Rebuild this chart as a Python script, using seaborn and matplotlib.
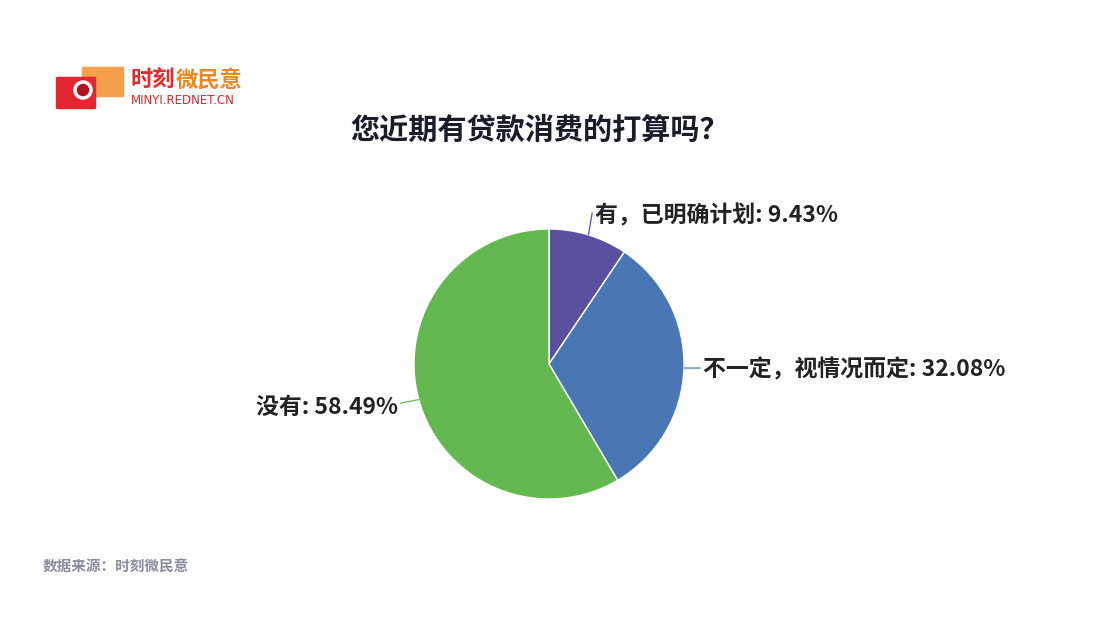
import numpy as np
import matplotlib.pyplot as plt
import matplotlib.patches as mpatches
import seaborn as sns

# ==============================
# Data
# ==============================
title = "您近期有贷款消费的打算吗？"
labels = ["有，已明确计划", "不一定，视情况而定", "没有"]
shares = [9.43, 32.08, 58.49]
colors = ["#5b4f9f", "#4a77b4", "#63b84f"]
source = "数据来源：时刻微民意"

# ==============================
# Style
# ==============================
sns.set_theme(style="white")
plt.rcParams["font.family"] = ["Noto Sans CJK SC", "DejaVu Sans"]

W, H = 1100, 620
fig = plt.figure(figsize=(W / 100, H / 100), dpi=100)
fig.patch.set_facecolor("white")

# pie axes: centre (549, 364), radius 135 px
cx, cy, r = 549, 364, 135
ax = fig.add_axes([(cx - r) / W, 1 - (cy + r) / H, 2 * r / W, 2 * r / H])
wedges, _ = ax.pie(shares, colors=colors, startangle=90, counterclock=False,
                   wedgeprops=dict(edgecolor="white", linewidth=1))
ax.set_xlim(-1, 1)
ax.set_ylim(-1, 1)
ax.set_aspect("equal")
ax.axis("off")

# leader lines + labels
line_ends = [(0.32, 1.12), (1.12, -0.03), (-1.10, -0.29)]
text_pos = [(0.34, 1.10), (1.14, -0.04), (-1.12, -0.32)]
aligns = ["left", "left", "right"]
for w, lab, val, end, tp, ha in zip(wedges, labels, shares, line_ends, text_pos, aligns):
    ang = np.deg2rad((w.theta1 + w.theta2) / 2)
    x0, y0 = np.cos(ang), np.sin(ang)
    ax.plot([x0, end[0]], [y0, end[1]], color=w.get_facecolor(), lw=0.9, clip_on=False)
    ax.text(tp[0], tp[1], f"{lab}: {val:.2f}%", ha=ha, va="center", fontsize=16.5,
            fontweight="bold", color="#222222", clip_on=False)

# title
fig.text(540 / W, 1 - 130 / H, title, ha="center", va="center", fontsize=21,
         fontweight="heavy", color="#1c1c28")

# source
fig.text(43 / W, 1 - 567 / H, source, ha="left", va="center", fontsize=10.5,
         fontweight="bold", color="#8c8c9c")

# logo (decoration)
fig.patches.append(mpatches.FancyBboxPatch((84 / W, 1 - 96 / H), 38 / W, 28 / H,
                                           boxstyle="round,pad=0.002", transform=fig.transFigure,
                                           facecolor="#f4a04a", edgecolor="none"))
fig.patches.append(mpatches.FancyBboxPatch((58 / W, 1 - 108 / H), 36 / W, 30 / H,
                                           boxstyle="round,pad=0.002", transform=fig.transFigure,
                                           facecolor="#e3262f", edgecolor="none"))
fig.patches.append(mpatches.Ellipse((83 / W, 1 - 90 / H), 16 / W, 16 / H,
                                    transform=fig.transFigure, facecolor="#b3121c",
                                    edgecolor="white", linewidth=2.5))
fig.text(131 / W, 1 - 80 / H, "时刻", ha="left", va="center", fontsize=16,
         fontweight="bold", style="italic", color="#e52a2a")
fig.text(176 / W, 1 - 80 / H, "微民意", ha="left", va="center", fontsize=16,
         fontweight="bold", style="italic", color="#f0861e")
fig.text(131 / W, 1 - 101 / H, "MINYI.REDNET.CN", ha="left", va="center", fontsize=8.5,
         color="#d8262b", family=["DejaVu Sans"])

fig.savefig("out.png", dpi=100, facecolor="white")
